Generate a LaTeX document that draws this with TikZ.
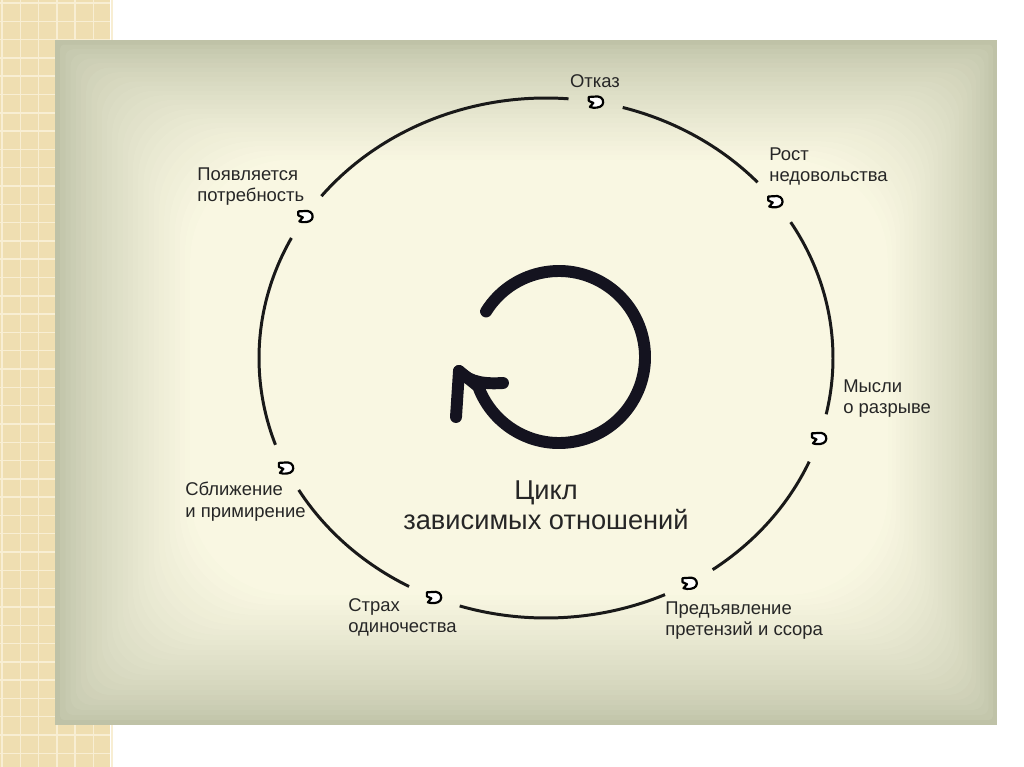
\documentclass[tikz,border=0pt]{standalone}
\usepackage{fontspec}
\setmainfont{Liberation Sans}
\definecolor{cin}{HTML}{F9F7E2}
\definecolor{cout}{HTML}{BFC2A7}
\definecolor{stripc}{HTML}{EFDEB1}
\definecolor{stripl}{HTML}{F8EED3}
\definecolor{navy}{HTML}{14131F}
\definecolor{txt}{HTML}{262626}
\begin{document}
\begin{tikzpicture}[x=0.02cm,y=0.02cm,
  ring/.style={line width=1.7pt, black!90},
  bigarrow/.style={line width=6.8pt, draw=navy, line cap=round, line join=round},
  lbl/.style={font=\fontsize{10.5}{12.2}\selectfont, text=txt, align=left, inner sep=0pt},
  titlelbl/.style={font=\fontsize{15.5}{17.5}\selectfont, text=txt, align=center, inner sep=0pt},
  gridln/.style={draw=stripl, line width=0.8pt},
  leafm/.pic={\draw[line width=1.25pt, fill=white, line join=round]
     (-7,5) -- (2,5.5) .. controls (7,5) and (8.5,0) .. (6.5,-3) .. controls (4.5,-6) and (-2,-6.5) .. (-6,-5) -- (-2.5,-1) -- (-7,1) -- cycle;}
]
\useasboundingbox (0,0) rectangle (1024,-767);
\fill[white] (0,0) rectangle (1024,-767);
% left patterned strip
\fill[stripc] (0,0) rectangle (110,-767);
\foreach \i in {0,...,6} \draw[gridln] ({2+\i*18.3},0) -- ({2+\i*18.3},-767);
\foreach \j in {0,...,42} \draw[gridln] (0,{-3-\j*18.3}) -- (110,{-3-\j*18.3});
% card with vignette
\foreach \i in {0,...,26} {
  \pgfmathsetmacro\p{100*(\i/26)^0.75}
  \fill[cin!\p!cout, rounded corners={\i*2.2pt}]
    ({55+\i*5.2},{-40-\i*4.6}) rectangle ({997-\i*4.2},{-725+\i*5});
}
% big ellipse with gaps
\foreach \a/\b in {-149.5/-118.5, -107.5/-65.5, -54.5/-23.5, -12.5/31.5, 42.5/74.5, 85.5/141.5, 152.5/199.5}
  \draw[ring] (546,-358) ++(\a:287 and 260) arc[start angle=\a, end angle=\b, x radius=287, y radius=260];
% markers
\foreach \t in {80,37,-18,-60,-113,205,147}
  \path (546,-358) ++(\t:287 and 260) pic {leafm};
% central circular arrow
\draw[bigarrow] (559,-357) ++(148:86) arc[start angle=148, end angle=-160, radius=86] -- (459,-371);
\draw[bigarrow] (456,-417) -- (459,-371) .. controls (470,-383) and (486,-384) .. (503,-383);
% labels
\node[lbl, anchor=north] (otkaz) at (595,-74) {Отказ};
\node[lbl, anchor=north west] (potr) at (197,-167) {Появляется\\потребность};
\node[lbl, anchor=north west] (rost) at (769,-147) {Рост\\недовольства};
\node[lbl, anchor=north west] (mysli) at (843,-379) {Мысли\\о разрыве};
\node[lbl, anchor=north west] (sbl) at (185,-482) {Сближение\\и примирение};
\node[lbl, anchor=north west] (strah) at (348,-598) {Страх\\одиночества};
\node[lbl, anchor=north west] (pred) at (665,-601) {Предъявление\\претензий и ссора};
\node[titlelbl, anchor=north] (cycle) at (546,-480) {Цикл\\зависимых отношений};
\end{tikzpicture}
\end{document}
